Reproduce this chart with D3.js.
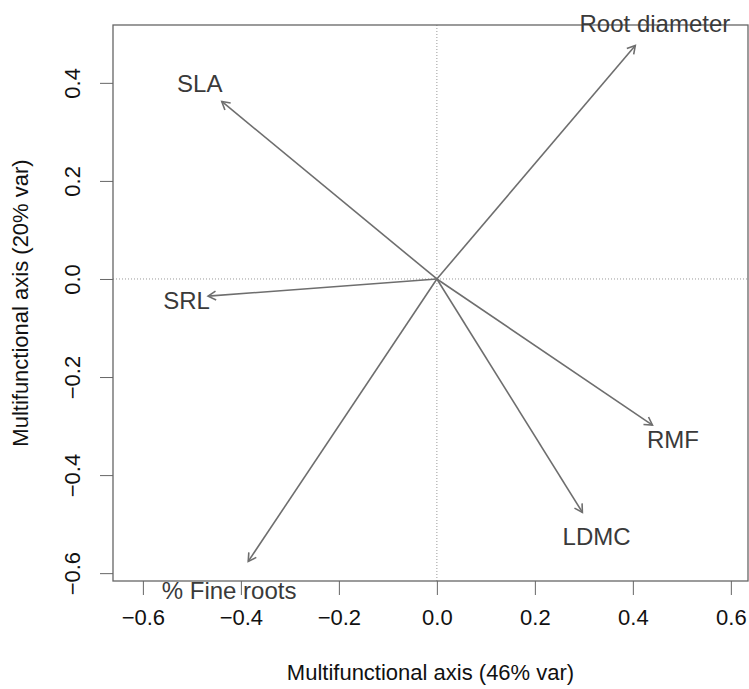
<!DOCTYPE html>
<html>
<head>
<meta charset="utf-8">
<script src="https://d3js.org/d3.v7.min.js"></script>
<style>
  body { margin: 0; background: #fff; }
  text { font-family: "Liberation Sans", Arial, sans-serif; }
</style>
</head>
<body>
<div id="chart"></div>
<script>
// trait loadings on the two multifunctional axes
const traits = ["Root diameter", "SLA", "SRL", "RMF", "LDMC", "% Fine roots"]
const axis1 = [0.405, -0.439, -0.467, 0.440, 0.297, -0.385]
const axis2 = [0.476, 0.362, -0.035, -0.298, -0.476, -0.576]
// where the labels sit (data units)
const labelX = [0.445, -0.484, -0.511, 0.482, 0.326, -0.424]
const labelY = [0.522, 0.398, -0.043, -0.327, -0.526, -0.635]

const xTicks = [-0.6, -0.4, -0.2, 0.0, 0.2, 0.4, 0.6]
const yTicks = [-0.6, -0.4, -0.2, 0.0, 0.2, 0.4]

const width = 749, height = 689
const box = { left: 113, right: 748, top: 25, bottom: 581 }

const svg = d3.select("#chart").append("svg")
  .attr("width", width).attr("height", height)

const x = d3.scaleLinear().domain([-0.661, 0.635]).range([box.left, box.right])
const y = d3.scaleLinear().domain([-0.616, 0.518]).range([box.bottom, box.top])

const fmt = d => d3.format(".1f")(d).replace("-", "\u2212")

// axes
const xAxis = svg.append("g")
  .attr("transform", `translate(0,${box.bottom})`)
  .call(d3.axisBottom(x).tickValues(xTicks).tickSize(14).tickPadding(14).tickFormat(fmt))
xAxis.select(".domain").remove()
xAxis.selectAll("line").attr("stroke", "#666")
xAxis.selectAll("text").attr("font-size", 22).attr("fill", "#111")
  .attr("font-family", "Liberation Sans, Arial, sans-serif")

const yAxis = svg.append("g")
  .attr("transform", `translate(${box.left},0)`)
  .call(d3.axisLeft(y).tickValues(yTicks).tickSize(13).tickFormat(fmt))
yAxis.select(".domain").remove()
yAxis.selectAll("line").attr("stroke", "#666")
yAxis.selectAll("text")
  .attr("font-size", 22).attr("fill", "#111")
  .attr("font-family", "Liberation Sans, Arial, sans-serif")
  .attr("x", null).attr("dy", null)
  .attr("text-anchor", "middle")
  .attr("transform", d => `translate(-40,0) rotate(-90) translate(0,7)`)

// reference lines through the origin
svg.append("line")
  .attr("x1", x(0)).attr("x2", x(0)).attr("y1", box.top).attr("y2", box.bottom)
  .attr("stroke", "#999").attr("stroke-width", 1).attr("stroke-dasharray", "1,2")
svg.append("line")
  .attr("x1", box.left).attr("x2", box.right).attr("y1", y(0)).attr("y2", y(0))
  .attr("stroke", "#999").attr("stroke-width", 1).attr("stroke-dasharray", "1,2")

// plot frame
svg.append("rect")
  .attr("x", box.left).attr("y", box.top)
  .attr("width", box.right - box.left).attr("height", box.bottom - box.top)
  .attr("fill", "none").attr("stroke", "#666").attr("stroke-width", 1.3)

// arrows
const headLen = 9, headAng = Math.PI / 6
const arrows = svg.append("g")
traits.forEach((t, i) => {
  const x0 = x(0), y0 = y(0), x1 = x(axis1[i]), y1 = y(axis2[i])
  const a = Math.atan2(y1 - y0, x1 - x0)
  arrows.append("line")
    .attr("x1", x0).attr("y1", y0).attr("x2", x1).attr("y2", y1)
    .attr("stroke", "#6e6e6e").attr("stroke-width", 1.6)
  const p = d3.path()
  p.moveTo(x1 - headLen * Math.cos(a - headAng), y1 - headLen * Math.sin(a - headAng))
  p.lineTo(x1, y1)
  p.lineTo(x1 - headLen * Math.cos(a + headAng), y1 - headLen * Math.sin(a + headAng))
  arrows.append("path").attr("d", p.toString())
    .attr("fill", "none").attr("stroke", "#6e6e6e").attr("stroke-width", 1.6)
})

// trait labels
svg.append("g").selectAll("text")
  .data(traits)
  .enter()
  .append("text")
  .attr("x", (d, i) => x(labelX[i]))
  .attr("y", (d, i) => y(labelY[i]))
  .attr("text-anchor", "middle")
  .attr("dominant-baseline", "central")
  .attr("font-size", 24)
  .attr("fill", "#3a3a3a")
  .text(d => d)

// axis titles
svg.append("text")
  .attr("x", (box.left + box.right) / 2).attr("y", 672)
  .attr("text-anchor", "middle").attr("dominant-baseline", "central")
  .attr("font-size", 22).attr("fill", "#111")
  .text("Multifunctional axis (46% var)")

svg.append("text")
  .attr("transform", `translate(20,${(box.top + box.bottom) / 2}) rotate(-90)`)
  .attr("text-anchor", "middle").attr("dominant-baseline", "central")
  .attr("font-size", 22).attr("fill", "#111")
  .text("Multifunctional axis (20% var)")
</script>
</body>
</html>
